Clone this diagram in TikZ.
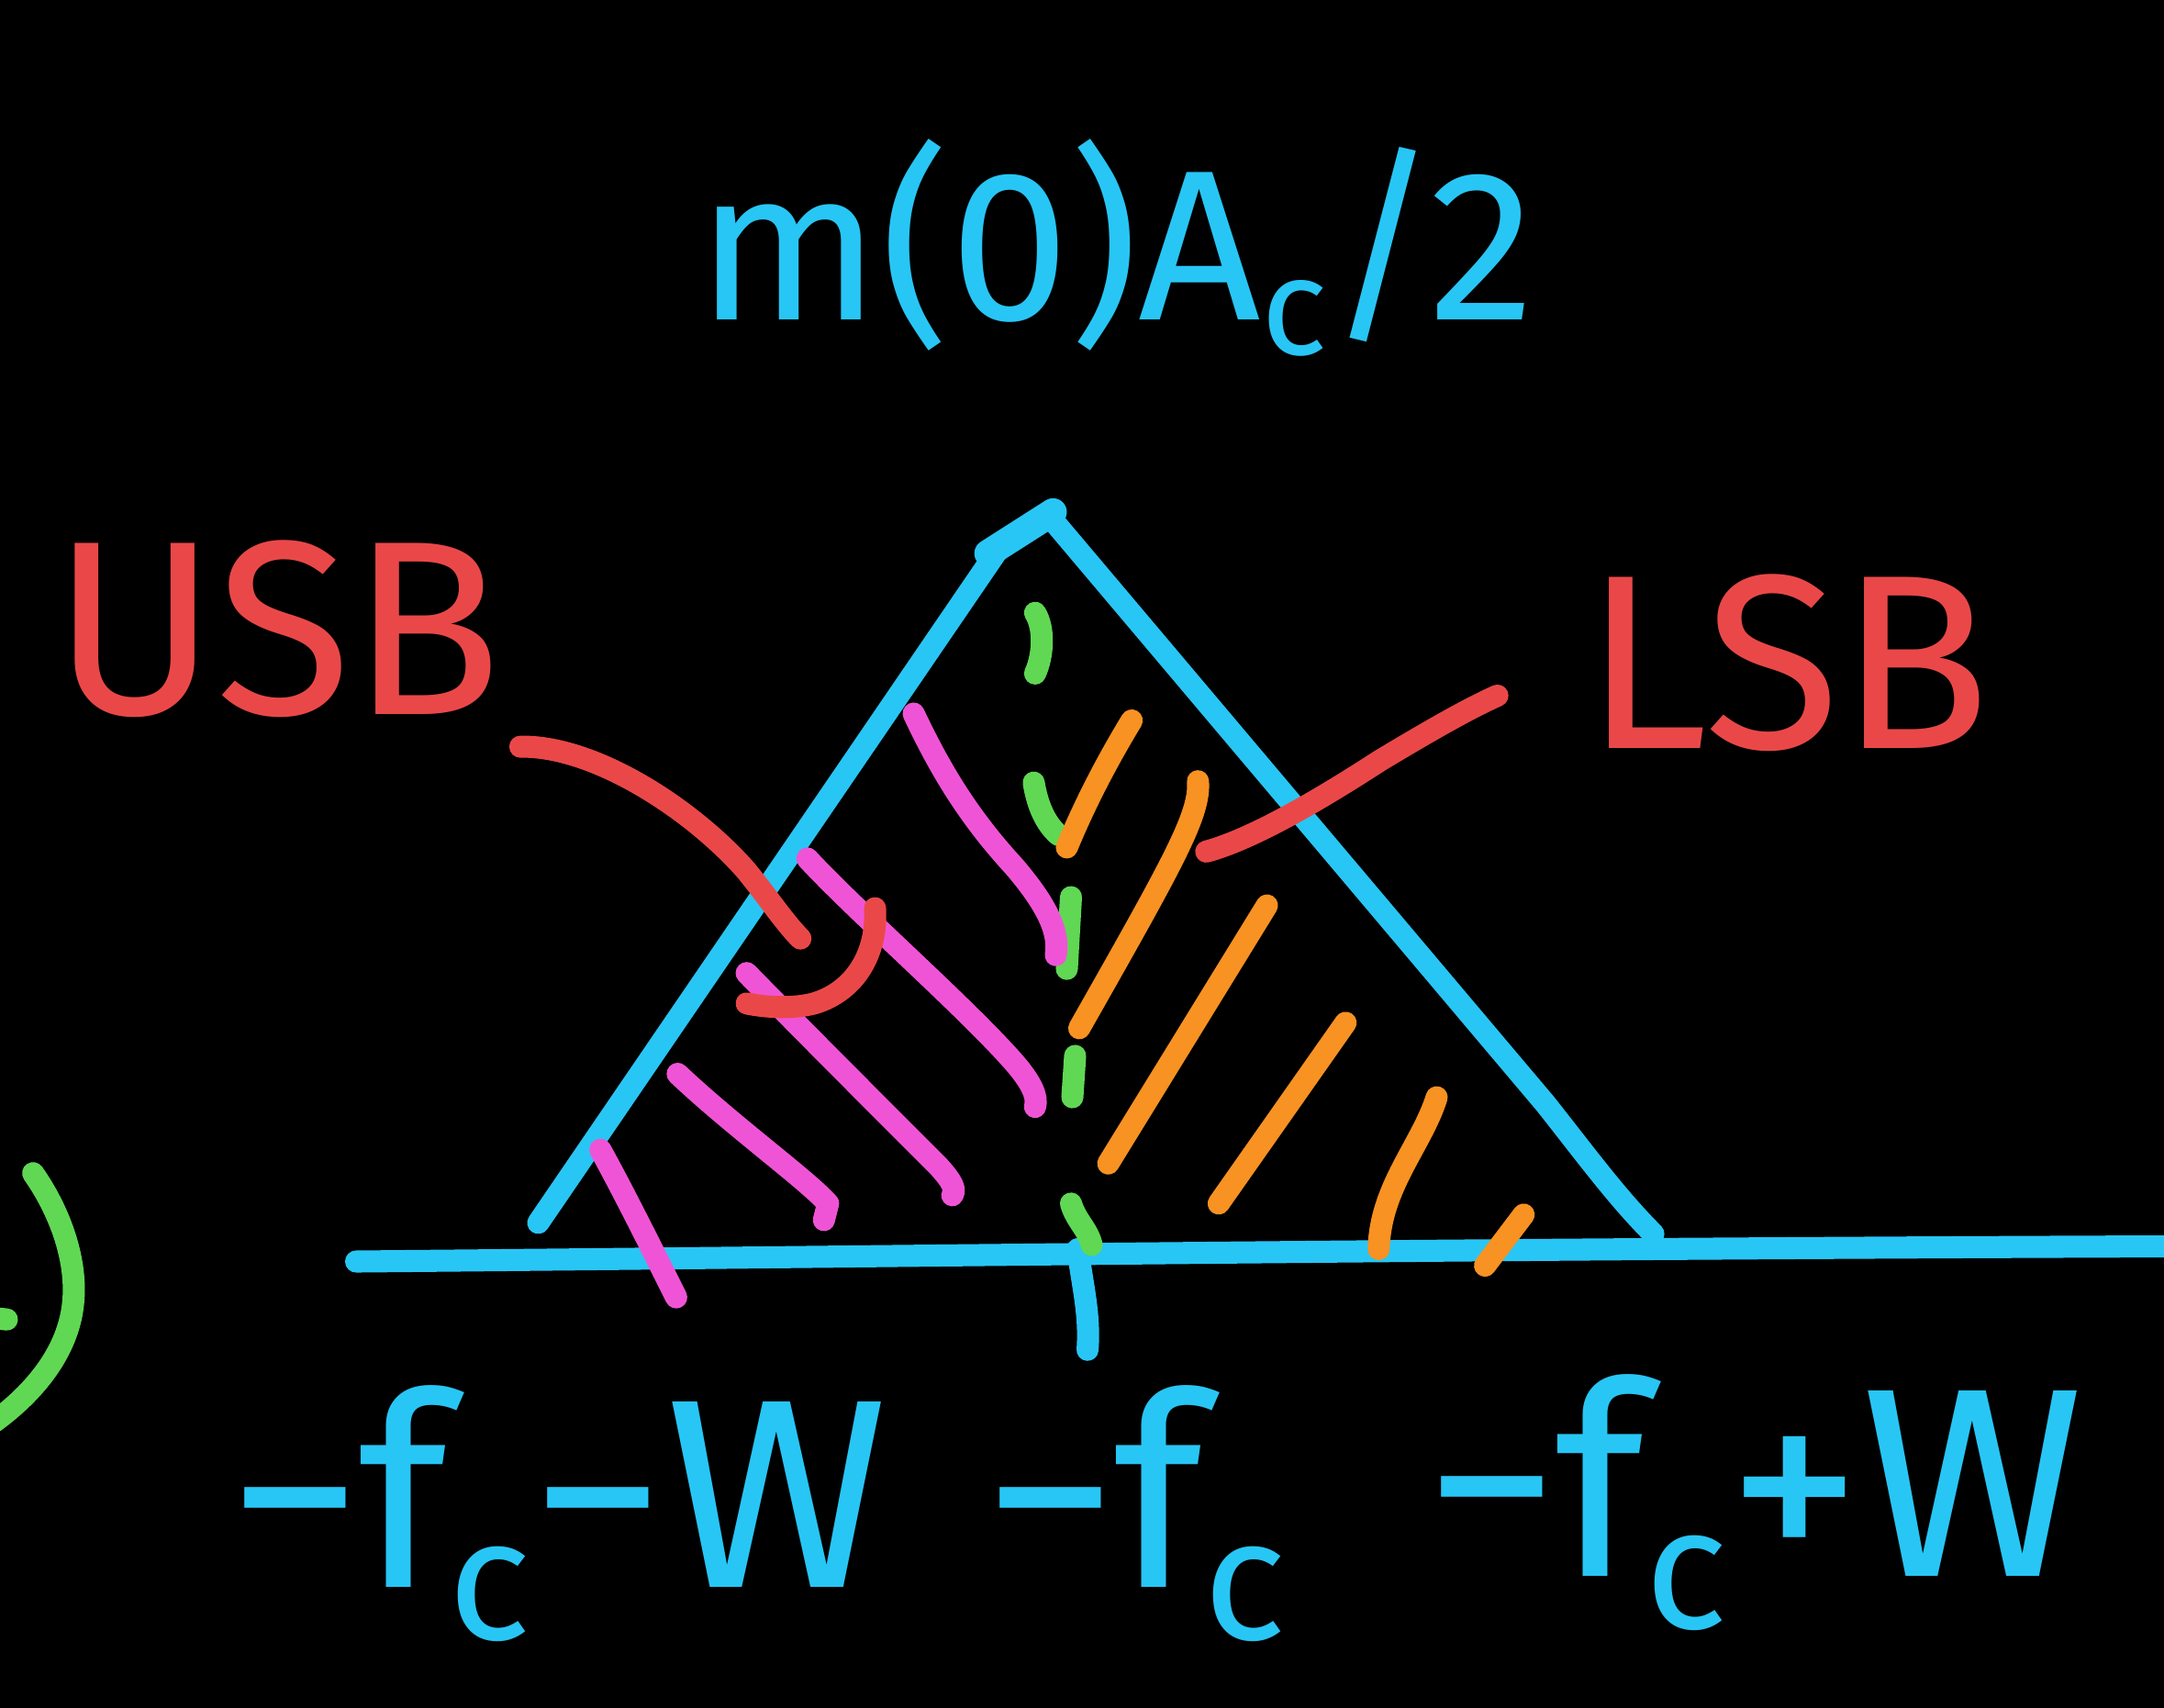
\documentclass[tikz,border=0pt]{standalone}
\usepackage{fontspec}
\setmainfont{Fira Sans}
\definecolor{cblue}{RGB}{40,198,245}
\definecolor{cred}{RGB}{234,72,72}
\definecolor{cpink}{RGB}{240,84,214}
\definecolor{corange}{RGB}{248,146,34}
\definecolor{cgreen}{RGB}{96,216,84}
\newcommand{\lowc}[1]{\raisebox{-38pt}{\fontsize{125}{125}\selectfont #1}}
\newcommand{\lowctop}[1]{\raisebox{-25pt}{\fontsize{100}{100}\selectfont #1}}
\tikzset{
  pen/.style={line width=16pt, line cap=round, line join=round},
  bluepen/.style={pen, draw=cblue},
  redpen/.style={pen, draw=cred},
  pinkpen/.style={pen, draw=cpink},
  orangepen/.style={pen, draw=corange},
  greenpen/.style={pen, draw=cgreen},
  lbl/.style={inner sep=0pt, anchor=base west},
}
\begin{document}
\begin{tikzpicture}[x=1pt,y=-1pt]
\fill[black] (0,0) rectangle (1568,1237.5);
\useasboundingbox (0,0) rectangle (1568,1237.5);

% axis and tick
\coordinate (axL) at (258,914);
\coordinate (axR) at (1580,903);
\draw[bluepen] (axL) .. controls (600,911) and (1000,905) .. (axR);
\coordinate (tickT) at (781,905);
\coordinate (tickB) at (788,978);
\draw[bluepen] (tickT) .. controls (784,930) and (790,952) .. (tickB);

% triangle
\coordinate (footL) at (390,886);
\coordinate (apex) at (762,376);
\coordinate (footR) at (1198,894);
\draw[bluepen] (footL) -- (724,397);
\draw[bluepen, line width=20pt] (716,401) -- (763,371);
\draw[bluepen] (apex) -- (1120,800) .. controls (1150,838) and (1172,868) .. (footR);

% green dashed centre line
\draw[greenpen] (750,444) .. controls (757,455) and (756,475) .. (750,488);
\draw[greenpen] (749,567) .. controls (752,585) and (758,597) .. (767,605);
\draw[greenpen] (776,650) -- (773,702);
\draw[greenpen] (779,765) -- (777,795);
\draw[greenpen] (776,872) .. controls (780,885) and (788,890) .. (791,902);

% pink hatching
\draw[pinkpen] (662,517) .. controls (680,555) and (700,590) .. (735,628) .. controls (758,655) and (768,675) .. (765,692);
\draw[pinkpen] (585,622) .. controls (620,660) and (700,730) .. (735,770) .. controls (748,785) and (752,795) .. (750,802);
\draw[pinkpen] (541,705) .. controls (580,745) and (650,815) .. (680,845) .. controls (690,856) and (693,862) .. (690,866);
\draw[pinkpen] (491,778) .. controls (530,815) and (585,855) .. (600,872) -- (597,884);
\draw[pinkpen] (435,833) .. controls (450,860) and (470,900) .. (490,940);

% orange hatching
\draw[orangepen] (820,522) .. controls (800,555) and (785,585) .. (773,614);
\draw[orangepen] (868,566) .. controls (870,590) and (850,625) .. (782,745);
\draw[orangepen] (918,656) -- (803,843);
\draw[orangepen] (975,741) -- (883,872);
\draw[orangepen] (1041,795) .. controls (1030,830) and (1000,860) .. (999,905);
\draw[orangepen] (1104,880) -- (1076,917);

% labels
\node[lbl, text=cblue, font=\fontsize{155}{155}\selectfont] (top) at (505,232) {m(0)A\lowctop{c}/2};
\node[lbl, text=cred, font=\fontsize{180}{180}\selectfont] (usb) at (38,518) {USB};
\node[lbl, text=cred, font=\fontsize{180}{180}\selectfont] (lsb) at (1148,542) {LSB};
\node[lbl, text=cblue, font=\fontsize{195}{195}\selectfont] (l1) at (165,1150) {−f\lowc{c}−W};
\node[lbl, text=cblue, font=\fontsize{195}{195}\selectfont] (l2) at (712,1150) {−f\lowc{c}};
\node[lbl, text=cblue, font=\fontsize{195}{195}\selectfont] (l3) at (1032,1142) {−f\lowc{c}+W};

% pointers
\coordinate (usbS) at (377,541);
\coordinate (usbE) at (580,680);
\draw[redpen] (usbS) .. controls (430,540) and (500,585) .. (540,630) .. controls (555,648) and (568,668) .. (usbE);
\draw[redpen] (634,658) .. controls (636,690) and (620,718) .. (590,727) .. controls (575,731) and (555,730) .. (541,727);
\coordinate (lsbS) at (874,617);
\coordinate (lsbE) at (1085,504);
\draw[redpen] (lsbS) .. controls (900,610) and (940,590) .. (1000,551) .. controls (1040,527) and (1065,513) .. (lsbE);

% green fragment at left edge
\draw[greenpen] (24,850) .. controls (45,880) and (56,915) .. (53,944) .. controls (50,975) and (30,1005) .. (-4,1030);
\draw[greenpen] (-4,955) -- (5,956);
\end{tikzpicture}
\end{document}
